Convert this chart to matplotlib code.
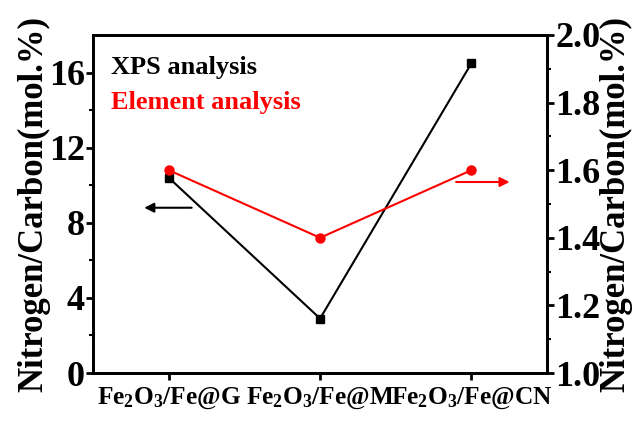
import matplotlib
matplotlib.use("Agg")
import matplotlib.pyplot as plt

plt.rcParams['font.family'] = ['Liberation Serif', 'DejaVu Serif']
plt.rcParams['font.weight'] = 'bold'
plt.rcParams['axes.labelweight'] = 'bold'
plt.rcParams['mathtext.fontset'] = 'custom'
plt.rcParams['mathtext.rm'] = 'Liberation Serif:bold'
plt.rcParams['mathtext.default'] = 'rm'

# data
samples = [r'Fe$_2$O$_3$/Fe@G', r'Fe$_2$O$_3$/Fe@M', r'Fe$_2$O$_3$/Fe@CN']
xps = [10.4, 2.9, 16.5]          # left axis
element = [1.6, 1.4, 1.6]        # right axis
left_ticks = [0, 4, 8, 12, 16]
right_ticks = [1.0, 1.2, 1.4, 1.6, 1.8, 2.0]

x = [1, 2, 3]

fig = plt.figure(figsize=(6.37, 4.21), dpi=100)
ax = fig.add_axes([0.146, 0.114, 0.713, 0.803])
ax2 = ax.twinx()

ax.plot(x, xps, color='black', lw=1.5, marker='s', ms=6, zorder=3)
ax2.plot(x, element, color='red', lw=1.5, marker='o', ms=6.5, zorder=3)

ax.set_xlim(0.5, 3.5)
ax.set_ylim(0, 18)
ax2.set_ylim(1.0, 2.0)

ax.set_xticks(x)
ax.set_xticklabels(samples, fontsize=18.3)
ax.set_yticks(left_ticks)
ax.set_yticks([2, 6, 10, 14], minor=True)
ax.set_yticklabels([str(t) for t in left_ticks], fontsize=26)
ax2.set_yticks(right_ticks)
ax2.set_yticks([1.1, 1.3, 1.5, 1.7, 1.9], minor=True)
ax2.set_yticklabels(['%.1f' % t for t in right_ticks], fontsize=26)

for a in (ax, ax2):
    for s in a.spines.values():
        s.set_linewidth(2)
    a.tick_params(which='major', direction='out', length=5, width=2, pad=1)
    a.tick_params(which='minor', direction='out', length=3, width=1.5)
ax.tick_params(axis='x', pad=4)

ax.set_ylabel('Nitrogen/Carbon(mol.%)', fontsize=25, labelpad=-1)
fig.text(616 / 637, 0.515, 'Nitrogen/Carbon(mol.%)', fontsize=25, fontweight='bold',
         rotation=90, ha='center', va='center')

ax.text(0.04, 0.905, 'XPS analysis', transform=ax.transAxes, fontsize=19, color='black', va='center')
ax.text(0.04, 0.80, 'Element analysis', transform=ax.transAxes, fontsize=19, color='red', va='center')

# direction arrows
ax.annotate('', xy=(1.17 - 0.35, 8.8), xytext=(1.17, 8.8),
            arrowprops=dict(arrowstyle='-|>', color='black', lw=1.5, mutation_scale=14))
ax2.annotate('', xy=(3.27, 1.565), xytext=(2.88, 1.565),
             arrowprops=dict(arrowstyle='-|>', color='red', lw=1.5, mutation_scale=14))

fig.savefig('out.png', dpi=100)
